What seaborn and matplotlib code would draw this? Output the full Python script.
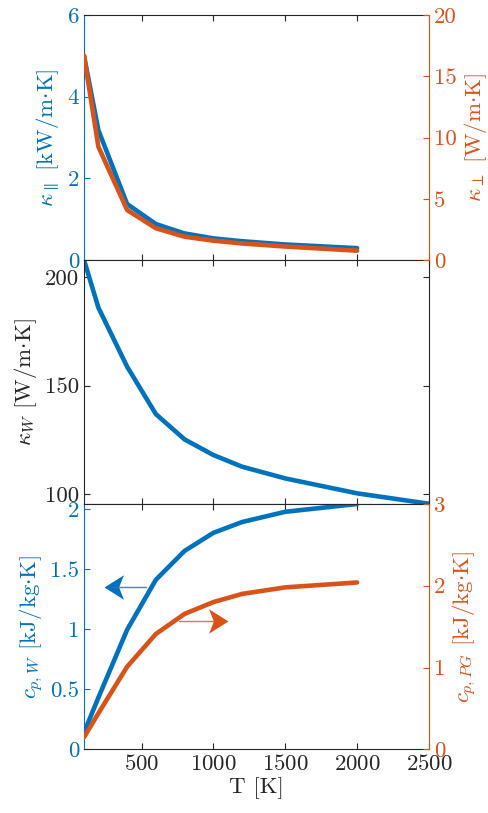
import numpy as np
import pandas as pd
import matplotlib
matplotlib.use("Agg")
import matplotlib.pyplot as plt
from matplotlib.ticker import FuncFormatter
from matplotlib.path import Path
import seaborn as sns

# data
T = [100, 200, 400, 600, 800, 1000, 1200, 1500, 2000]
T_W = [100, 200, 400, 600, 800, 1000, 1200, 1500, 2000, 2500]
k_par = [5.0, 3.18, 1.37, 0.88, 0.65, 0.53, 0.46, 0.38, 0.29]      # kW/m.K
k_perp = [16.7, 9.25, 4.08, 2.59, 1.9, 1.58, 1.35, 1.1, 0.76]      # W/m.K
k_W = [208, 186, 158.7, 136.8, 125.1, 117.9, 112.5, 107.1, 100.2, 95.4]
cp_W = [0.138, 0.43, 0.994, 1.41, 1.65, 1.80, 1.89, 1.975, 2.04]
cp_PG = [0.147, 0.44, 1.01, 1.41, 1.656, 1.80, 1.90, 1.98, 2.04]

blue = "#0072BD"
orange = "#D95319"
dark = "#262626"

sns.set_style("ticks")
plt.rcParams['font.family'] = ['cmr10', 'DejaVu Serif']
plt.rcParams['mathtext.fontset'] = 'cm'
plt.rcParams['axes.formatter.use_mathtext'] = True
plt.rcParams['font.size'] = 16
plt.rcParams['axes.unicode_minus'] = False

fmt = FuncFormatter(lambda v, p: "%g" % v)
lw = 3.3
tsize = 16.5
lsize = 16.5

fig = plt.figure(figsize=(4.89, 8.13), dpi=100)
left, width = 0.1718, 0.7055
ax1 = fig.add_axes([left, 0.6802, width, 0.3013])
ax2 = fig.add_axes([left, 0.3804, width, 0.2998])
ax3 = fig.add_axes([left, 0.0784, width, 0.3017])


def style_main(ax, lcolor):
    ax.set_xlim(100, 2500)
    ax.set_xticks([500, 1000, 1500, 2000, 2500])
    ax.tick_params(axis='x', direction='in', top=True, bottom=True,
                   length=4, width=0.8, colors=dark, labelsize=tsize)
    ax.tick_params(axis='y', direction='in', length=4, width=0.8,
                   colors=lcolor, labelsize=tsize)
    for s in ['top', 'bottom']:
        ax.spines[s].set_color(dark)
        ax.spines[s].set_linewidth(0.8)
    ax.spines['left'].set_color(lcolor)
    ax.spines['left'].set_linewidth(0.8)
    ax.yaxis.set_major_formatter(fmt)


def style_twin(ax, rcolor):
    for s in ['left', 'top', 'bottom']:
        ax.spines[s].set_visible(False)
    ax.spines['right'].set_visible(True)
    ax.spines['right'].set_color(rcolor)
    ax.spines['right'].set_linewidth(0.8)
    ax.tick_params(axis='y', direction='in', length=4, width=0.8,
                   colors=rcolor, labelsize=tsize)
    ax.yaxis.set_major_formatter(fmt)


# top panel: kappa parallel / perpendicular
style_main(ax1, blue)
ax1.spines['right'].set_visible(False)
sns.lineplot(x=T, y=k_par, ax=ax1, color=blue, linewidth=lw)
ax1.set_ylim(0, 6)
ax1.set_yticks([0, 2, 4, 6])
ax1.set_ylabel(r'$\kappa_{\parallel}$ [kW/m$\cdot$K]', color=blue, fontsize=lsize)
ax1.tick_params(axis='x', labelbottom=False)
ax1b = ax1.twinx()
sns.lineplot(x=T, y=k_perp, ax=ax1b, color=orange, linewidth=lw)
ax1b.set_ylim(0, 20)
ax1b.set_yticks([0, 5, 10, 15, 20])
style_twin(ax1b, orange)
ax1b.set_ylabel(r'$\kappa_{\perp}$ [W/m$\cdot$K]', color=orange, fontsize=lsize)
ax1.set_xlim(100, 2500)

# middle panel: kappa W
style_main(ax2, dark)
ax2.spines['right'].set_color(dark)
ax2.spines['right'].set_linewidth(0.8)
sns.lineplot(x=T_W, y=k_W, ax=ax2, color=blue, linewidth=lw)
ax2.set_ylim(95.4, 208)
ax2.set_yticks([100, 150, 200])
ax2.tick_params(axis='y', right=True)
ax2.set_ylabel(r'$\kappa_W$ [W/m$\cdot$K]', color=dark, fontsize=lsize)
ax2.tick_params(axis='x', labelbottom=False)
ax2.set_xlim(100, 2500)

# bottom panel: specific heats
style_main(ax3, blue)
ax3.spines['right'].set_visible(False)
sns.lineplot(x=T, y=cp_W, ax=ax3, color=blue, linewidth=lw)
ax3.set_ylim(0, 2.04)
ax3.set_yticks([0, 0.5, 1, 1.5, 2])
ax3.set_ylabel(r'$c_{p,W}$ [kJ/kg$\cdot$K]', color=blue, fontsize=lsize)
ax3.set_xlabel('T [K]', color=dark, fontsize=lsize, labelpad=2)
ax3b = ax3.twinx()
sns.lineplot(x=T, y=cp_PG, ax=ax3b, color=orange, linewidth=lw)
ax3b.set_ylim(0, 3)
ax3b.set_yticks([0, 1, 2, 3])
style_twin(ax3b, orange)
ax3b.set_ylabel(r'$c_{p,PG}$ [kJ/kg$\cdot$K]', color=orange, fontsize=lsize)
ax3.set_xlim(100, 2500)

# arrows pointing to the matching axis (swept-back heads)
head_r = Path([(0, 0), (-14, 8.8), (-10.5, 0), (-14, -8.8), (0, 0)],
              [Path.MOVETO, Path.LINETO, Path.LINETO, Path.LINETO, Path.CLOSEPOLY])
head_l = Path([(0, 0), (14, 8.8), (10.5, 0), (14, -8.8), (0, 0)],
              [Path.MOVETO, Path.LINETO, Path.LINETO, Path.LINETO, Path.CLOSEPOLY])

ax3.plot([531, 300], [1.35, 1.35], color=blue, lw=1.0, alpha=0.8)
ax3.plot([239], [1.35], marker=head_l, ms=28, color=blue, mew=0)
ax3.plot([763, 1050], [1.063, 1.063], color=orange, lw=1.0, alpha=0.8)
ax3.plot([1099], [1.063], marker=head_r, ms=28, color=orange, mew=0)

for a in (ax1, ax1b, ax2, ax3, ax3b):
    leg = a.get_legend()
    if leg is not None:
        leg.remove()

fig.savefig("out.png", dpi=100)
